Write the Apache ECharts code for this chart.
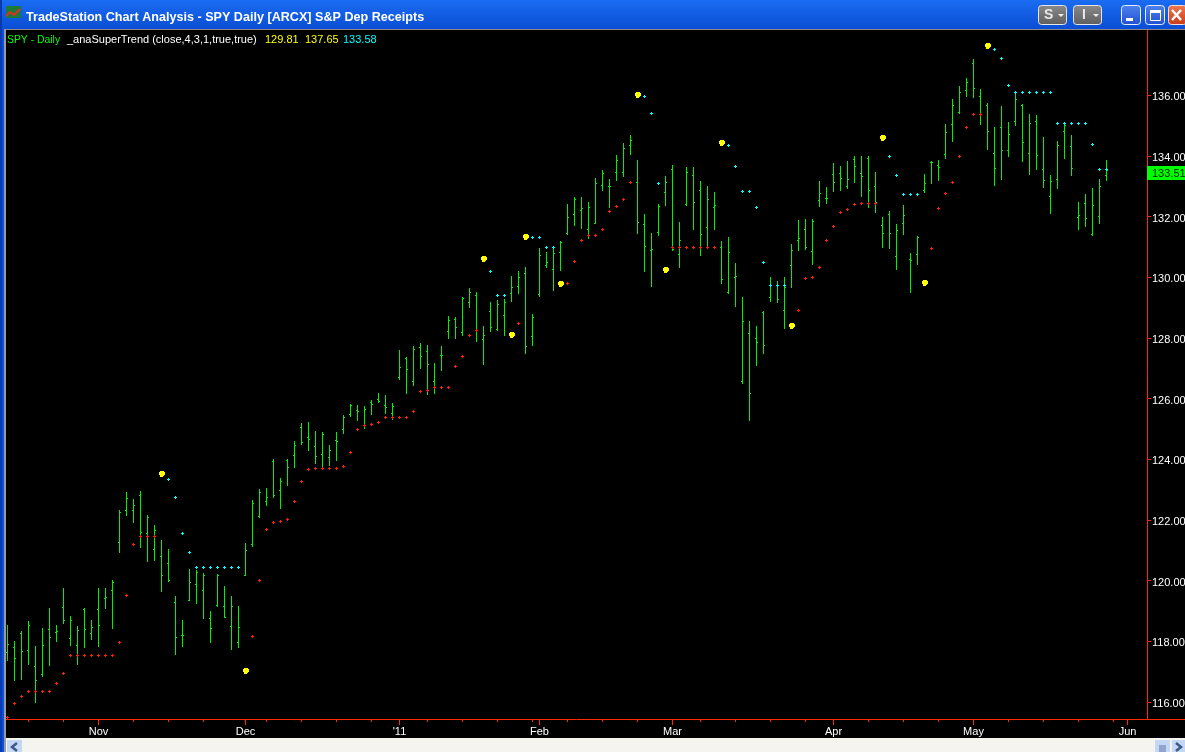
<!DOCTYPE html>
<html><head><meta charset="utf-8">
<script src="https://cdn.jsdelivr.net/npm/echarts@6/dist/echarts.min.js"></script>
<style>html,body{margin:0;padding:0;background:#000;overflow:hidden}#c{width:1185px;height:752px}</style>
</head><body><div id="c"></div>
<script>
const highs=[118.54,118.01,118.34,118.67,117.84,118.44,119.10,118.54,119.76,118.83,
118.50,119.10,118.70,119.76,119.76,120.02,122.33,122.92,122.69,122.95,
122.16,121.83,121.34,121.04,119.49,118.70,120.38,120.35,120.25,119.00,
120.22,119.82,119.49,119.16,121.24,122.66,123.02,123.05,124.01,123.38,
124.01,124.60,125.20,125.23,124.93,124.90,124.47,124.90,125.46,125.82,
125.79,125.76,125.95,126.18,126.12,125.86,127.60,127.37,127.73,127.83,
127.77,127.17,127.73,128.72,128.69,129.35,129.65,129.51,128.39,129.18,
129.25,129.28,130.04,130.21,130.34,128.79,130.97,130.83,130.97,131.20,
132.42,132.65,132.65,132.48,133.27,133.54,133.24,134.03,134.43,134.69,
133.87,132.09,131.46,132.42,133.34,133.70,131.82,133.64,133.64,133.17,
133.01,132.81,131.20,131.33,130.47,129.35,128.56,128.39,128.89,130.01,
129.88,130.01,131.10,131.89,131.92,131.92,133.18,132.98,133.77,133.67,
133.83,134.00,134.00,134.00,133.47,131.99,132.19,131.76,132.38,130.80,
131.36,133.41,133.83,133.87,135.05,135.88,136.31,136.57,137.20,136.21,
135.75,134.96,135.65,135.12,136.11,135.71,135.38,135.35,134.63,133.37,
134.49,135.05,134.69,132.48,132.75,132.94,133.24,133.87];
const lows=[117.35,116.69,116.72,117.22,115.96,116.82,117.18,117.98,118.57,117.84,
117.22,117.78,118.04,117.81,119.06,118.40,120.91,122.13,121.90,121.07,
120.61,120.65,119.62,119.95,117.55,117.81,119.33,119.23,118.73,117.94,
119.13,118.77,117.71,117.78,120.15,121.11,122.06,122.46,122.72,122.36,
123.12,123.71,124.47,124.27,123.84,123.71,123.78,123.94,124.83,125.39,
125.26,125.00,125.46,125.86,125.49,125.29,126.61,126.15,126.42,126.98,
126.12,126.15,126.91,127.97,127.97,128.06,128.99,127.87,127.11,128.20,
128.23,128.06,129.18,129.45,127.47,127.73,129.35,130.31,129.55,130.21,
131.39,131.69,131.59,131.26,131.76,132.84,132.28,133.17,133.31,134.03,
131.43,130.17,129.68,131.36,132.35,130.87,130.31,132.35,131.56,130.70,
131.00,131.56,129.78,129.45,129.02,126.48,125.26,127.08,127.47,129.19,
129.15,128.30,129.65,130.87,130.90,130.41,132.32,132.42,132.81,132.85,
132.91,133.11,132.65,132.28,132.12,130.97,130.93,130.24,131.39,129.48,
130.41,132.78,133.08,133.18,133.90,134.46,135.38,135.94,135.91,135.02,
134.20,133.01,133.21,133.97,134.99,133.80,133.37,133.54,132.94,132.09,
132.91,133.90,133.34,131.56,131.66,131.36,131.76,133.18];
const opens=[117.64,117.80,118.27,117.70,117.17,116.91,118.39,118.29,119.12,118.10,
117.87,119.05,118.26,119.05,119.42,119.68,121.26,122.32,122.32,122.81,
121.56,121.03,120.80,120.57,119.28,118.20,119.35,119.88,119.68,118.76,
119.18,119.15,118.49,117.96,120.17,121.20,122.11,122.61,123.93,122.98,
123.96,124.13,125.05,124.72,124.43,124.16,124.06,124.62,124.99,125.48,
125.61,125.12,125.88,125.98,125.78,125.51,126.70,127.33,126.57,127.69,
127.56,126.57,127.43,128.22,128.61,128.19,129.17,129.40,127.95,128.88,
128.28,128.75,129.47,129.70,130.13,128.05,129.44,130.39,130.26,130.82,
131.45,132.08,132.21,131.58,131.78,133.03,133.00,133.46,133.46,134.35,
133.13,131.75,130.89,131.48,132.80,133.56,130.76,132.41,133.36,132.87,
131.65,132.31,130.99,129.50,130.00,126.57,128.15,127.99,128.85,129.34,
129.74,128.91,130.39,131.22,131.58,130.86,132.54,132.60,133.40,133.43,
133.00,133.89,133.43,133.92,133.00,131.71,132.08,130.69,131.78,130.59,
130.76,132.87,133.79,133.69,134.05,135.04,135.44,136.16,137.05,135.97,
135.67,134.09,134.94,134.19,135.14,135.67,134.09,135.14,133.56,132.67,
133.23,134.81,134.32,131.98,132.44,131.42,132.01,133.36];
const closes=[117.90,117.44,117.67,118.53,116.71,117.87,118.13,118.33,118.69,118.69,
118.36,118.39,118.46,118.53,119.45,119.94,122.25,122.71,122.49,121.59,
122.09,121.66,120.17,120.01,118.13,118.20,119.94,120.27,120.17,118.43,
120.17,118.79,119.15,118.46,121.00,122.55,122.90,122.75,122.81,123.27,
123.73,124.46,124.56,124.66,124.10,124.82,124.29,124.59,125.38,125.78,
125.58,125.65,125.81,125.91,125.71,125.75,127.03,126.97,127.62,127.39,
127.13,126.37,127.43,128.58,128.35,129.31,129.50,128.25,128.09,128.35,
129.11,129.17,129.67,130.00,127.72,128.68,130.72,130.49,130.79,131.15,
131.98,132.57,132.27,132.31,133.10,133.43,133.00,133.86,134.25,134.52,
131.81,131.02,130.92,132.34,133.13,130.92,131.22,133.46,132.47,131.42,
132.57,132.37,129.93,130.82,130.03,128.55,126.17,127.86,127.76,129.74,
129.27,129.67,130.89,131.28,130.99,131.85,132.77,132.60,133.13,133.26,
133.23,133.66,133.33,132.87,132.47,131.45,131.45,131.55,132.04,130.56,
131.32,133.10,133.79,133.63,134.78,135.67,136.10,136.43,136.23,135.37,
134.81,133.59,134.19,134.71,135.87,134.45,135.08,134.02,133.20,133.16,
134.35,135.00,133.59,132.04,131.94,132.37,133.00,133.51];

const redDots=[[0,115.50],[1,115.95],[2,116.18],[3,116.35],[4,116.35],[5,116.35],[6,116.35],[7,116.61],[8,116.94],
[9,117.54],[10,117.54],[11,117.54],[12,117.54],[13,117.54],[14,117.54],[15,117.54],[16,117.96],[17,119.51],[18,121.20],
[19,121.46],[20,121.46],[21,121.46],[35,118.16],[36,120.01],[37,121.69],[38,121.93],[39,121.96],[40,122.03],[41,122.61],
[42,123.27],[43,123.67],[44,123.70],[45,123.70],[46,123.70],[47,123.70],[48,123.77],[49,124.23],[50,124.99],[51,125.12],
[52,125.15],[53,125.22],[54,125.38],[55,125.38],[56,125.38],[57,125.38],[58,125.58],[59,126.24],[60,126.27],[61,126.37],
[62,126.37],[63,126.37],[64,127.06],[65,127.39],[66,128.09],[67,128.25],[73,128.48],[80,129.80],[81,130.53],[82,131.22],
[83,131.38],[84,131.38],[85,131.58],[86,132.17],[87,132.34],[88,132.57],[89,133.13],[95,130.99],[96,130.99],[97,130.99],
[98,130.99],[99,130.99],[100,130.99],[101,130.99],[113,128.91],[114,129.97],[115,130.00],[116,130.33],[117,131.22],
[118,131.68],[119,132.14],[120,132.24],[121,132.41],[122,132.44],[123,132.44],[124,132.44],[132,130.96],[133,132.27],
[134,132.77],[135,133.13],[136,133.99],[137,134.94],[138,135.37],[139,135.37]];
const cyanDots=[[23,123.34],[24,122.74],[25,121.56],[26,120.93],[27,120.43],[28,120.43],[29,120.43],[30,120.43],[31,120.43],
[32,120.43],[33,120.43],[69,130.20],[70,129.40],[71,129.40],[75,131.32],[76,131.32],[77,130.99],[78,130.99],[91,135.97],
[92,135.41],[93,133.10],[103,134.35],[104,133.66],[105,132.83],[106,132.83],[107,132.31],[108,130.49],[109,129.74],
[110,129.74],[111,129.74],[126,133.99],[127,133.36],[128,132.74],[129,132.74],[130,132.74],[141,137.52],[142,137.22],
[143,136.33],[144,136.10],[145,136.10],[146,136.10],[147,136.10],[148,136.10],[149,136.10],[150,135.08],[151,135.08],
[152,135.08],[153,135.08],[154,135.08],[155,134.38],[156,133.56],[157,133.56]];
const yellowDots=[[22,123.49],[34,117.00],[68,130.58],[72,128.07],[74,131.30],[79,129.76],[90,135.99],[94,130.22],
[102,134.40],[112,128.37],[125,134.57],[131,129.79],[140,137.62]];

const priceTicks=[116,118,120,122,124,126,128,130,132,134,136];
const monthLabels=['Nov','Dec',"'11",'Feb','Mar','Apr','May','Jun'];
const monthBars=[13,34,56,76,95,118,138,160];
const weekBars=[3,8,18,23,28,37,42,47,52,60,65,70,75,80,85,90,99,104,109,114,123,128,133,143,148,153,158];
const legendItems=[['SPY - Daily','#00ff00',7],['_anaSuperTrend (close,4,3,1,true,true)','#ffffff',67],['129.81','#ffff00',265],['137.65','#ffff00',305],['133.58','#00ffff',343]];
const titleText='TradeStation Chart Analysis - SPY Daily [ARCX] S&P Dep Receipts';

const GREEN='#00f000',AXIS='#ff2a00',FONT='"Liberation Sans",Arial,sans-serif';
const ohlc=highs.map((h,i)=>[i,opens[i],closes[i],lows[i],h]);
function px(r,fill){return {type:'rect',shape:r,style:{fill:fill},silent:true};}
function renderBar(p,api){
  const i=api.value(0),a=api.coord([i,api.value(1)]),b=api.coord([i,api.value(2)]),
        l=api.coord([i,api.value(3)]),h=api.coord([i,api.value(4)]);
  const x=Math.floor(a[0]),top=Math.round(h[1]);
  return {type:'group',children:[
    px({x:x,y:top,width:1,height:Math.round(l[1])-top},GREEN),
    px({x:x-1,y:Math.floor(a[1]),width:1,height:1},GREEN),
    px({x:x+1,y:Math.floor(b[1]),width:1,height:1},GREEN)]};
}
function renderPlus(color){return function(p,api){
  const c=api.coord([api.value(0),api.value(1)]),x=Math.floor(c[0]),y=Math.floor(c[1]);
  return {type:'group',children:[px({x:x-1,y:y,width:3,height:1},color),px({x:x,y:y-1,width:1,height:3},color)]};
};}
function renderBlob(p,api){
  const c=api.coord([api.value(0),api.value(1)]),x=Math.floor(c[0]),y=Math.floor(c[1]),Y='#ffff00';
  return {type:'group',children:[px({x:x-1,y:y-3,width:4,height:1},Y),px({x:x-2,y:y-2,width:6,height:3},Y),px({x:x-1,y:y+1,width:4,height:1},Y),px({x:x-1,y:y+2,width:3,height:1},Y)]};
}
function renderTag(p,api){
  const c=api.coord([api.value(0),api.value(1)]),s=p.coordSys,y=Math.floor(c[1]),r=s.x+s.width;
  return {type:'group',children:[
    {type:'rect',shape:{x:r,y:y-4,width:api.getWidth()-r,height:14},style:{fill:'#00ff00'}},
    {type:'text',x:r+5,y:y+4,style:{text:api.value(1).toFixed(2),fill:'#032003',font:'11px '+FONT,textVerticalAlign:'middle',textAlign:'left'}}]};
}
const btn=(x,w,fill,stroke)=>({type:'rect',shape:{x:x,y:5.5,width:w,height:19,r:3},style:{fill:fill,stroke:stroke,lineWidth:1},z:50});
const grad=(a,b)=>({type:'linear',x:0,y:0,x2:0,y2:1,colorStops:[{offset:0,color:a},{offset:1,color:b}]});
const graphics=[
  {type:'rect',shape:{x:0,y:0,width:1185,height:29},style:{fill:grad('#1a6cf2','#0a4ed4')},z:40},
  {type:'rect',shape:{x:0,y:29,width:1185,height:1},style:{fill:'#8a8a8a'},z:40},
  {type:'rect',shape:{x:0,y:0,width:2,height:752},style:{fill:'#0a3ab0'},z:41},
  {type:'rect',shape:{x:2,y:29,width:2,height:723},style:{fill:'#0a50e0'},z:41},
  {type:'rect',shape:{x:4,y:29,width:2,height:723},style:{fill:'#9a9a9a'},z:41},
  {type:'rect',shape:{x:6,y:738,width:1179,height:14},style:{fill:'#f5f4ee'},z:41},
  {type:'rect',shape:{x:1147,y:719,width:38,height:1},style:{fill:AXIS},z:41},
  {type:'rect',shape:{x:6,y:6,width:15,height:12},style:{fill:'#1c7a3a'},z:50},
  {type:'polyline',shape:{points:[[6,16],[10,12],[14,15],[20,9]]},style:{stroke:'#e03020',fill:null,lineWidth:2},z:51},
  {type:'text',x:26,y:18,style:{text:titleText,fill:'#fff',font:'bold 12.6px '+FONT,textVerticalAlign:'middle',textShadowColor:'#0a2a80',textShadowOffsetX:1,textShadowOffsetY:1,textShadowBlur:0},z:52},
  btn(1038.5,28,grad('#8a8a8a','#5e5e5e'),'#e6e6e6'),
  {type:'text',x:1044,y:15,style:{text:'S',fill:'#e8e8e8',font:'bold 14px '+FONT,textVerticalAlign:'middle'},z:52},
  {type:'polygon',shape:{points:[[1058,14],[1064,14],[1061,17]]},style:{fill:'#eee'},z:52},
  btn(1073.5,28,grad('#8a8a8a','#5e5e5e'),'#e6e6e6'),
  {type:'text',x:1082,y:15,style:{text:'I',fill:'#e8e8e8',font:'bold 14px '+FONT,textVerticalAlign:'middle'},z:52},
  {type:'polygon',shape:{points:[[1093,14],[1099,14],[1096,17]]},style:{fill:'#eee'},z:52},
  btn(1121.5,19,grad('#4d83ee','#2350cf'),'#e8eeff'),
  {type:'rect',shape:{x:1126,y:18,width:7,height:3},style:{fill:'#fff'},z:52},
  btn(1145.5,19,grad('#4d83ee','#2350cf'),'#e8eeff'),
  {type:'rect',shape:{x:1150.5,y:10.5,width:10,height:10},style:{fill:null,stroke:'#fff',lineWidth:1},z:52},
  {type:'rect',shape:{x:1150,y:10,width:11,height:3},style:{fill:'#fff'},z:52},
  btn(1168.5,18,grad('#ee7a50','#c83a18'),'#f4e0d8'),
  {type:'polyline',shape:{points:[[1172,10],[1181,20]]},style:{stroke:'#fff',lineWidth:2.5},z:52},
  {type:'polyline',shape:{points:[[1181,10],[1172,20]]},style:{stroke:'#fff',lineWidth:2.5},z:52},
  {type:'rect',shape:{x:7,y:740,width:15,height:12},style:{fill:'#c4d7f4'},z:50},
  {type:'polyline',shape:{points:[[17,743],[12,747],[17,751]]},style:{stroke:'#3f5a88',fill:null,lineWidth:2.5},z:52},
  {type:'rect',shape:{x:1155,y:740,width:15,height:12},style:{fill:'#c4d7f4'},z:50},
  {type:'rect',shape:{x:1159,y:745,width:7,height:7},style:{fill:'#8ea6cc'},z:51},
  {type:'rect',shape:{x:1172,y:740,width:13,height:12},style:{fill:'#c4d7f4'},z:50},
  {type:'polyline',shape:{points:[[1176,743],[1181,747],[1176,751]]},style:{stroke:'#3f5a88',fill:null,lineWidth:2.5},z:52}
].concat(legendItems.map((t,i)=>({type:'text',x:t[2],y:40,style:{text:t[0],fill:t[1],font:(i===0?'10.4px ':'11px ')+FONT,textVerticalAlign:'middle'},z:52})));

const chart=echarts.init(document.getElementById('c'),null,{renderer:'canvas',devicePixelRatio:1});
chart.setOption({
  animation:false,backgroundColor:'#000',
  grid:{left:6,right:38,top:30,bottom:33,outerBoundsMode:'none'},
  xAxis:[
    {type:'value',min:-0.2143,max:162.786,position:'bottom',splitLine:{show:false},
     axisLine:{show:true,onZero:false,lineStyle:{color:AXIS,width:1}},
     axisTick:{show:true,customValues:monthBars,length:6,lineStyle:{color:AXIS}},
     axisLabel:{show:true,customValues:monthBars,color:'#fff',fontFamily:FONT,fontSize:11,margin:7,hideOverlap:false,
       formatter:v=>monthLabels[monthBars.indexOf(Math.round(v))]||''}},
    {type:'value',min:-0.2143,max:162.786,position:'bottom',splitLine:{show:false},
     axisLine:{show:false,onZero:false},
     axisTick:{show:true,customValues:weekBars,length:3,lineStyle:{color:AXIS}},
     axisLabel:{show:false}}
  ],
  yAxis:{type:'value',min:115.437,max:138.153,position:'right',splitLine:{show:false},
     axisLine:{show:true,onZero:false,lineStyle:{color:AXIS,width:1}},
     axisTick:{show:true,customValues:priceTicks,length:4,lineStyle:{color:AXIS}},
     axisLabel:{show:true,customValues:priceTicks,color:'#fff',fontFamily:FONT,fontSize:11,margin:5,verticalAlign:'top',lineHeight:4,hideOverlap:false,
       formatter:v=>v.toFixed(2)}},
  graphic:graphics,
  series:[
    {type:'custom',name:'SPY',coordinateSystem:'cartesian2d',data:ohlc,renderItem:renderBar,z:3,silent:true,encode:{x:0,y:[1,2,3,4]}},
    {type:'custom',name:'up',coordinateSystem:'cartesian2d',data:redDots,renderItem:renderPlus('#ff2000'),z:4,silent:true,encode:{x:0,y:1}},
    {type:'custom',name:'down',coordinateSystem:'cartesian2d',data:cyanDots,renderItem:renderPlus('#00ffff'),z:4,silent:true,encode:{x:0,y:1}},
    {type:'custom',name:'flip',coordinateSystem:'cartesian2d',data:yellowDots,renderItem:renderBlob,z:5,silent:true,encode:{x:0,y:1}},
    {type:'custom',name:'last',coordinateSystem:'cartesian2d',data:[[closes.length-1,closes[closes.length-1]]],renderItem:renderTag,z:20,silent:true,clip:false,encode:{x:0,y:1}}
  ]
});
</script></body></html>
